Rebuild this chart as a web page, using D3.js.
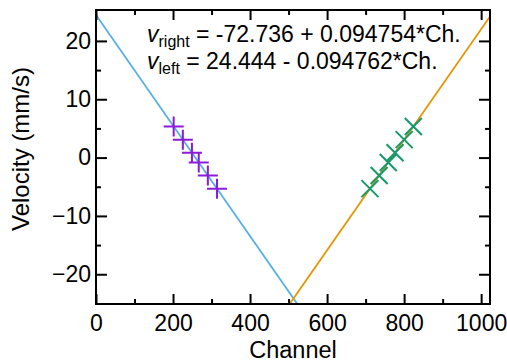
<!DOCTYPE html>
<html><head><meta charset="utf-8">
<script src="https://cdn.jsdelivr.net/npm/d3@7"></script>
<style>body{margin:0;background:#fff} text{font-family:"Liberation Sans",Arial,Helvetica,sans-serif;fill:#000}</style>
</head><body><svg id="c" width="507" height="362"></svg>
<script>
const xMajorTicks=[0,200,400,600,800,1000];
const xMinorTicks=[100,300,500,700,900];
const yMajorTicks=[-20,-10,0,10,20];
const yMinorTicks=[-15,-5,5,15];
const calibVelocities=[5.328,3.078,0.840,-0.840,-3.078,-5.328];
const leftChannels=[201.7,225.5,249.1,266.8,290.4,314.2];
const rightChannels=[823.9,800.1,776.5,758.8,735.1,711.4];
const fitRight={intercept:-72.736,slope:0.094754};
const fitLeft={intercept:24.444,slope:-0.094762};
const leftLineChannels=[0,540];
const rightLineChannels=[490,1023];
const eqRight=["v","right"," = -72.736 + 0.094754*Ch."];
const eqLeft=["v","left"," = 24.444 - 0.094762*Ch."];

const svg=d3.select("#c");
const m={l:96,r:490,t:10,b:304};
const x=d3.scaleLinear().domain([0,1023]).range([m.l,m.r]);
const y=d3.scaleLinear().domain([-25.1,25.3]).range([m.b,m.t]);

svg.append("clipPath").attr("id","clip").append("rect")
  .attr("x",m.l).attr("y",m.t).attr("width",m.r-m.l).attr("height",m.b-m.t);

const blue="#56b0e6", orange="#e69500", green="#129a6c", purple="#8c1ad8";

const line=d3.line().x(d=>x(d[0])).y(d=>y(d[1]));
const g=svg.append("g").attr("clip-path","url(#clip)");
g.append("path").datum(leftLineChannels.map(c=>[c,fitLeft.intercept+fitLeft.slope*c]))
  .attr("d",line).attr("fill","none").attr("stroke",blue).attr("stroke-width",1.8);
g.append("path").datum(rightLineChannels.map(c=>[c,fitRight.intercept+fitRight.slope*c]))
  .attr("d",line).attr("fill","none").attr("stroke",orange).attr("stroke-width",1.8);

// purple + markers
const pl=10;
svg.append("g").selectAll("path").data(leftChannels.map((c,i)=>[c,calibVelocities[i]])).join("path")
  .attr("d",d=>{const cx=x(d[0]),cy=y(d[1]);return `M${cx-pl},${cy}H${cx+pl}M${cx},${cy-pl}V${cy+pl}`;})
  .attr("stroke",purple).attr("stroke-width",2).attr("fill","none");
// green x markers
const gl=8.5;
svg.append("g").selectAll("path").data(rightChannels.map((c,i)=>[c,calibVelocities[i]])).join("path")
  .attr("d",d=>{const cx=x(d[0]),cy=y(d[1]);return `M${cx-gl},${cy-gl}L${cx+gl},${cy+gl}M${cx-gl},${cy+gl}L${cx+gl},${cy-gl}`;})
  .attr("stroke",green).attr("stroke-width",2).attr("fill","none");

// axes
function axisG(axis,tr){const a=svg.append("g").attr("transform",tr).call(axis);a.select(".domain").remove();
  a.selectAll("line").attr("stroke","#000").attr("stroke-width",2);return a;}
const fs=23;
const bx=axisG(d3.axisBottom(x).tickValues(xMajorTicks).tickSize(-10).tickPadding(11).tickFormat(d3.format("d")),`translate(0,${m.b})`);
bx.selectAll("text").attr("font-size",fs).attr("font-family","Liberation Sans, Arial, sans-serif");
axisG(d3.axisBottom(x).tickValues(xMinorTicks).tickSize(-5).tickFormat(""),`translate(0,${m.b})`);
axisG(d3.axisTop(x).tickValues(xMajorTicks).tickSize(-10).tickFormat(""),`translate(0,${m.t})`);
axisG(d3.axisTop(x).tickValues(xMinorTicks).tickSize(-5).tickFormat(""),`translate(0,${m.t})`);
const ly=axisG(d3.axisLeft(y).tickValues(yMajorTicks).tickSize(-11).tickPadding(5).tickFormat(d3.format("d")),`translate(${m.l},0)`);
ly.selectAll("text").attr("font-size",fs).attr("font-family","Liberation Sans, Arial, sans-serif");
axisG(d3.axisLeft(y).tickValues(yMinorTicks).tickSize(-5).tickFormat(""),`translate(${m.l},0)`);
axisG(d3.axisRight(y).tickValues(yMajorTicks).tickSize(-11).tickFormat(""),`translate(${m.r},0)`);
axisG(d3.axisRight(y).tickValues(yMinorTicks).tickSize(-5).tickFormat(""),`translate(${m.r},0)`);

svg.append("rect").attr("x",m.l).attr("y",m.t).attr("width",m.r-m.l).attr("height",m.b-m.t)
  .attr("fill","none").attr("stroke","#000").attr("stroke-width",2);

// titles
svg.append("text").attr("x",(m.l+m.r)/2).attr("y",358).attr("text-anchor","middle").attr("font-size",23.5).text("Channel");
svg.append("text").attr("transform",`translate(29,149) rotate(-90)`).attr("text-anchor","middle").attr("font-size",24).text("Velocity (mm/s)");

// equations
function eq(parts,yb){const t=svg.append("text").attr("x",147).attr("y",yb).attr("font-size",23);
  t.append("tspan").attr("font-style","italic").text(parts[0]);
  t.append("tspan").attr("font-size",16).attr("dy",5).text(parts[1]);
  t.append("tspan").attr("dy",-5).text(parts[2]);}
eq(eqRight,42);
eq(eqLeft,69);
</script></body></html>
